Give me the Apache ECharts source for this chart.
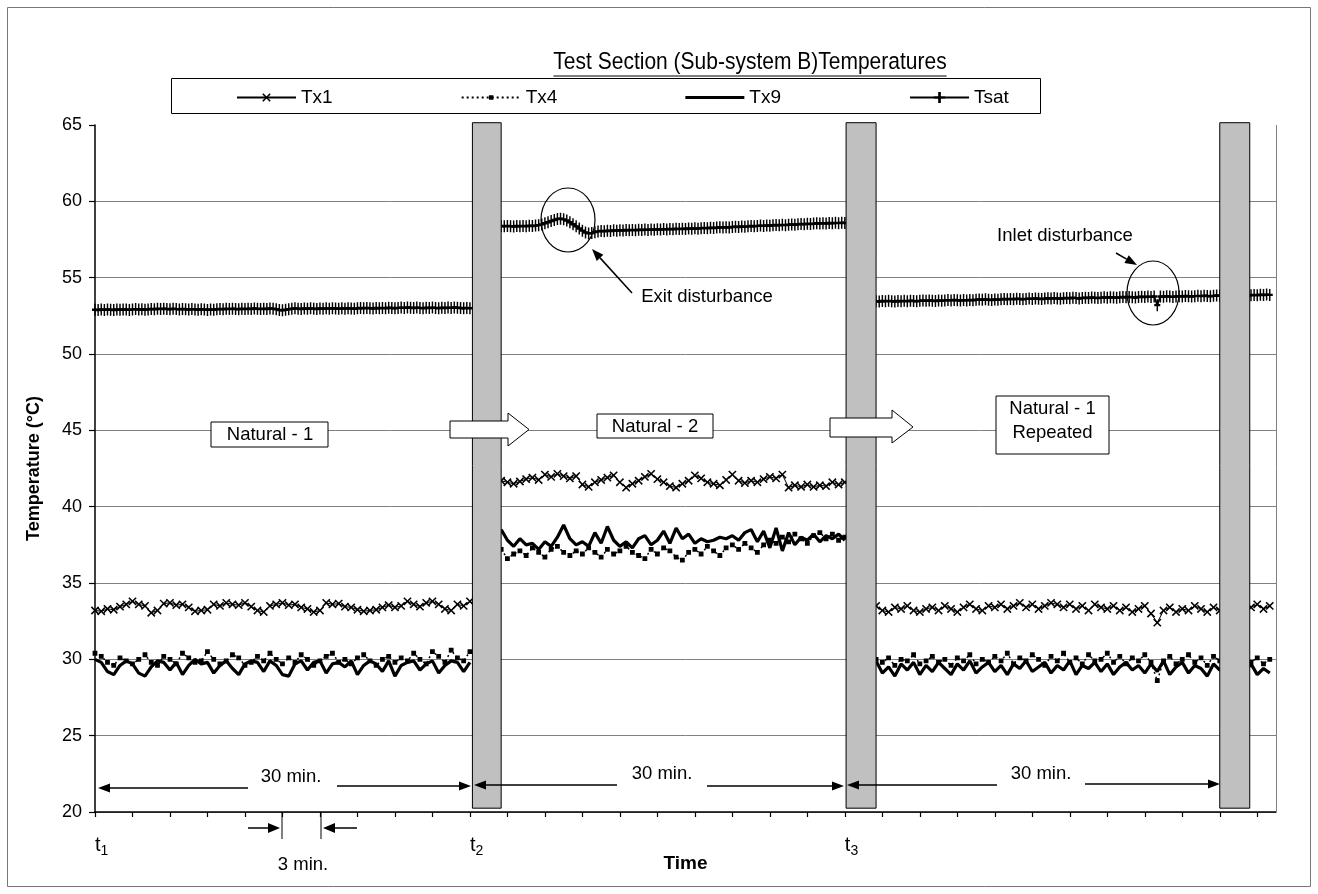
<!DOCTYPE html>
<html><head><meta charset="utf-8">
<script src="https://cdn.jsdelivr.net/npm/echarts@6/dist/echarts.min.js"></script>
<style>html,body{margin:0;padding:0;background:#fff}#c{width:1318px;height:894px}</style>
</head><body><div id="c"></div>
<script>
const FONT = '"Liberation Sans", Arial, sans-serif';
const titleText = 'Test Section (Sub-system B)Temperatures';
const seriesNames = ['Tx1', 'Tx4', 'Tx9', 'Tsat'];
const yAxisName = 'Temperature (°C)';
const xAxisName = 'Time';
const segmentStarts = [0, 32.5, 62.5];   // minutes
const sampleStep = 0.5;                  // minutes, Tx1/Tx4/Tx9
const tsatStep = 0.25;                   // minutes, Tsat
const timeMarks = {0: '1', 30: '2', 60: '3'};
const pauseBars = [[30.2, 32.5], [60.1, 62.5], [90.0, 92.4]];
const pauseBarY = [20.25, 65.15];

// ---- Tx1 ----
const tx1Seg1 = [33.2,33.15,33.3,33.25,33.45,33.6,33.8,33.6,33.5,33.05,
33.2,33.65,33.7,33.55,33.6,33.4,33.15,33.2,33.25,33.6,
33.5,33.7,33.6,33.55,33.7,33.45,33.2,33.1,33.5,33.6,
33.7,33.55,33.6,33.4,33.3,33.1,33.2,33.7,33.6,33.65,
33.45,33.4,33.25,33.15,33.2,33.25,33.4,33.55,33.4,33.5,
33.8,33.6,33.45,33.7,33.8,33.6,33.3,33.2,33.6,33.5,33.8];
const tx1Seg2 = [41.7,41.6,41.5,41.65,41.8,41.9,41.75,42.1,41.95,42.15,
42.0,41.85,42.0,41.45,41.3,41.6,41.75,41.9,42.05,41.6,
41.25,41.5,41.7,41.95,42.15,41.8,41.6,41.35,41.25,41.5,
41.7,42.05,41.85,41.6,41.5,41.4,41.75,42.1,41.7,41.55,
41.7,41.6,41.8,41.95,41.85,42.1,41.25,41.4,41.3,41.45,
41.3,41.4,41.35,41.6,41.45,41.6];
const tx1Seg3 = [33.5,33.2,33.1,33.4,33.3,33.5,33.2,33.1,33.3,33.4,
33.2,33.5,33.3,33.1,33.4,33.6,33.3,33.2,33.5,33.4,
33.6,33.3,33.5,33.7,33.4,33.6,33.3,33.5,33.7,33.6,
33.4,33.6,33.3,33.5,33.2,33.6,33.4,33.3,33.5,33.2,
33.4,33.1,33.3,33.5,33.0,32.4,33.2,33.4,33.1,33.3,
33.2,33.5,33.3,33.1,33.4,33.2,33.6,33.3,33.5,33.2,
33.4,33.6,33.3,33.5];

// ---- Tx4 ----
const tx4Seg1 = [30.4,30.2,29.8,29.6,30.1,29.9,29.7,30.0,30.3,29.8,
29.6,30.2,30.0,29.7,30.4,30.1,29.8,29.9,30.5,30.0,
29.7,29.9,30.3,30.1,29.6,29.8,30.2,29.9,30.4,30.0,
29.7,30.1,29.8,30.3,30.0,29.6,29.9,30.2,30.4,29.8,
30.0,29.7,30.1,30.3,29.9,29.6,30.0,30.2,29.8,30.1,
29.9,30.4,30.0,29.7,30.5,30.2,29.8,30.6,30.1,29.9,30.5];
const tx4Seg2 = [37.2,36.6,36.9,37.1,36.8,37.3,37.0,36.7,37.2,37.4,
37.0,36.8,37.1,36.9,37.3,37.0,36.7,37.2,36.9,37.1,
37.4,37.0,36.8,36.6,37.2,36.9,37.3,37.1,36.7,36.5,
37.0,37.2,36.9,37.4,37.1,36.8,37.3,37.5,37.2,37.6,
37.3,37.0,37.5,37.8,37.6,38.0,37.7,38.2,37.9,37.6,
38.1,38.3,37.9,38.2,37.8,38.0];
const tx4Seg3 = [30.0,29.8,30.1,29.6,30.0,29.9,30.3,29.7,29.9,30.2,
29.8,30.0,29.6,30.1,29.9,30.3,29.7,30.0,29.8,30.2,
29.9,30.4,29.7,30.1,29.9,30.3,30.0,29.6,30.2,29.9,
30.4,29.8,30.1,29.7,30.3,29.9,30.0,30.4,29.8,30.2,
29.7,30.1,29.9,30.3,29.8,28.6,29.9,30.2,29.7,30.0,
30.3,29.8,30.1,29.6,30.2,29.9,30.4,29.7,30.0,30.3,
29.8,30.1,29.7,30.0];

// ---- Tx9 ----
const tx9Seg1 = [30.0,29.8,29.2,29.0,29.6,29.9,29.7,29.1,28.9,29.5,
29.9,29.8,29.3,29.8,29.0,29.6,30.0,29.7,29.8,29.1,
29.6,29.9,29.4,29.0,29.7,29.9,29.8,29.2,29.9,29.6,
29.0,28.9,29.7,29.9,29.3,29.8,29.9,29.1,29.7,29.8,
29.5,29.9,29.0,29.6,29.9,29.7,29.2,29.9,28.9,29.6,
29.8,29.9,29.3,29.7,29.9,29.1,29.6,29.9,29.8,29.2,29.8];
const tx9Seg2 = [38.5,37.8,37.4,37.9,37.5,37.6,37.2,37.7,37.4,38.0,
38.8,37.9,37.5,37.7,37.4,38.3,37.6,38.7,37.8,37.4,
37.7,37.3,37.9,38.1,37.5,37.8,38.4,37.6,38.6,37.9,
38.2,37.6,37.9,37.7,37.8,38.0,37.9,38.1,37.8,38.3,
38.5,37.7,38.4,37.3,38.6,37.1,38.3,37.5,38.0,37.8,
38.2,37.7,38.1,37.9,38.2,37.8];
const tx9Seg3 = [29.9,29.1,29.5,28.9,29.7,29.3,29.8,29.0,29.6,29.2,
29.8,29.4,29.0,29.7,29.3,29.9,29.1,29.5,29.8,29.2,
29.6,29.0,29.7,29.4,29.9,29.2,29.5,29.8,29.1,29.6,
29.3,29.9,29.0,29.6,29.4,29.8,29.2,29.7,29.0,29.5,
29.8,29.3,29.6,29.1,29.7,29.2,29.9,29.0,29.5,29.8,
29.1,29.6,29.4,28.9,29.7,29.3,29.8,29.0,29.6,29.2,
29.7,29.0,29.4,29.1];

// ---- Tsat (0.25 min sampling) ----
const tsatSeg1 = [52.90,52.88,52.91,52.89,52.92,52.90,52.88,52.91,52.90,52.92,
52.91,52.89,52.92,52.94,52.91,52.93,52.90,52.92,52.95,52.93,
52.96,52.94,52.97,52.95,52.93,52.96,52.94,52.92,52.95,52.93,
52.91,52.94,52.92,52.90,52.93,52.91,52.89,52.92,52.90,52.93,
52.95,52.93,52.96,52.94,52.97,52.95,52.93,52.96,52.94,52.97,
52.95,52.98,52.96,52.94,52.97,52.95,52.98,52.96,52.93,52.88,
52.86,52.90,52.93,52.96,52.99,52.97,52.95,52.98,52.96,52.99,
52.97,52.95,52.98,52.96,52.99,52.97,53.00,52.98,52.96,52.99,
52.97,53.00,52.98,52.96,52.99,53.01,52.99,53.02,53.00,52.98,
53.01,52.99,53.02,53.00,53.03,53.01,52.99,53.02,53.04,53.02,
53.05,53.03,53.01,53.04,53.02,53.00,53.03,53.01,53.04,53.02,
53.00,53.03,53.01,53.04,53.02,53.05,53.03,53.01,52.99,53.02,53.00];
const tsatSeg2 = [58.38,58.36,58.39,58.37,58.35,58.38,58.36,58.39,58.37,58.40,
58.38,58.41,58.44,58.49,58.56,58.63,58.71,58.78,58.84,58.86,
58.82,58.74,58.63,58.50,58.36,58.22,58.08,57.96,57.90,57.92,
57.98,58.03,58.06,58.04,58.08,58.06,58.10,58.08,58.11,58.09,
58.12,58.10,58.13,58.11,58.14,58.12,58.15,58.13,58.16,58.14,
58.17,58.15,58.18,58.16,58.19,58.17,58.20,58.18,58.21,58.19,
58.22,58.20,58.23,58.21,58.24,58.26,58.24,58.27,58.25,58.28,
58.30,58.28,58.31,58.29,58.32,58.34,58.32,58.35,58.33,58.36,
58.38,58.36,58.39,58.41,58.39,58.42,58.40,58.43,58.45,58.43,
58.46,58.44,58.47,58.49,58.47,58.50,58.52,58.50,58.53,58.51,
58.54,58.56,58.54,58.57,58.55,58.58,58.56,58.59,58.57,58.60,58.58];
const tsatSeg3 = [53.46,53.44,53.47,53.45,53.48,53.46,53.44,53.47,53.45,53.48,
53.46,53.49,53.47,53.45,53.48,53.50,53.48,53.51,53.49,53.47,
53.50,53.48,53.51,53.53,53.51,53.54,53.52,53.50,53.53,53.51,
53.54,53.52,53.55,53.57,53.55,53.58,53.56,53.54,53.57,53.55,
53.58,53.60,53.58,53.61,53.59,53.62,53.60,53.58,53.61,53.63,
53.61,53.64,53.62,53.60,53.63,53.65,53.63,53.66,53.64,53.62,
53.65,53.67,53.65,53.68,53.66,53.64,53.67,53.69,53.67,53.70,
53.68,53.66,53.69,53.71,53.69,53.72,53.70,53.68,53.71,53.73,
53.71,53.74,53.72,53.70,53.73,53.75,53.73,53.76,53.74,53.77,
53.20,53.77,53.75,53.78,53.76,53.74,53.77,53.79,53.77,53.80,
53.78,53.76,53.79,53.81,53.79,53.82,53.80,53.78,53.81,53.83,
53.81,53.84,53.82,53.80,53.83,53.85,53.83,53.86,53.84,53.82,
53.85,53.87,53.85,53.88,53.86,53.89,53.87];

function build(segs, step) {
  const out = [];
  segs.forEach((vals, k) => {
    if (k > 0) out.push([segmentStarts[k] - step, '-']);
    vals.forEach((v, i) => out.push([segmentStarts[k] + i * step, v]));
  });
  return out;
}

// symbols padded inside a 10x10 box (tiny invisible corner specks fix the box)
const BOXFIX = 'M0,0L0.01,0L0,0.01Z M10,10L9.99,10L10,9.99Z ';
const X_SYMBOL = 'path://' + BOXFIX + 'M1.2,2.2L2.2,1.2L5,4L7.8,1.2L8.8,2.2L6,5L8.8,7.8L7.8,8.8L5,6L2.2,8.8L1.2,7.8L4,5Z';
const SQ_SYMBOL = 'path://' + BOXFIX + 'M3,3H7V7H3Z';
const PLUS_SYMBOL = 'path://M3.8,0L6.2,0L6.2,4L10,4L10,6L6.2,6L6.2,10L3.8,10L3.8,6L0,6L0,4L3.8,4Z';
const THICK_LINE_ICON = 'path://M0,0L0.01,0L0,0.01Z M59,14L58.99,14L59,13.99Z M0,5.5L59,5.5L59,8.5L0,8.5Z';

const chart = echarts.init(document.getElementById('c'), null, {renderer: 'canvas'});

function arrowLine(x1, y1, x2, y2, head, hw, lw) {
  head = head || 12; hw = hw || 4.5; lw = lw || 1.5;
  const a = Math.atan2(y2 - y1, x2 - x1);
  const bx = x2 - head * Math.cos(a), by = y2 - head * Math.sin(a);
  const px = -Math.sin(a) * hw, py = Math.cos(a) * hw;
  return [
    {type: 'line', z: 100, shape: {x1: x1, y1: y1, x2: bx, y2: by}, style: {stroke: '#000', lineWidth: lw}},
    {type: 'polygon', z: 100, shape: {points: [[x2, y2], [bx + px, by + py], [bx - px, by - py]]}, style: {fill: '#000'}}
  ];
}
function txt(x, y, s, size, extra) {
  return Object.assign({type: 'text', z: 101, x: x, y: y,
    style: {text: s, font: (size || 18.5) + 'px ' + FONT, fill: '#000', align: 'center', verticalAlign: 'middle'}}, extra || {});
}
function box(x1, y1, x2, y2) {
  return {type: 'rect', z: 100, shape: {x: x1, y: y1, width: x2 - x1, height: y2 - y1}, style: {fill: '#fff', stroke: '#000', lineWidth: 1}};
}

const TITLE_SIZE = 21;
const ctx = document.createElement('canvas').getContext('2d');
ctx.font = TITLE_SIZE + 'px ' + FONT;
const titleW = ctx.measureText(titleText).width;
const titleCx = 750, titleCy = 63;

const graphics = [
  {type: 'rect', z: 0, shape: {x: 7.5, y: 7.5, width: 1303, height: 879}, style: {fill: 'none', stroke: '#777', lineWidth: 1}},
  txt(titleCx, titleCy, titleText, TITLE_SIZE, {scaleY: 1.1}),
  {type: 'line', z: 100, shape: {x1: titleCx - titleW / 2, y1: titleCy + 13, x2: titleCx + titleW / 2, y2: titleCy + 13}, style: {stroke: '#000', lineWidth: 1.2}},
  {type: 'rect', z: 0, shape: {x: 171.5, y: 78.5, width: 869, height: 35}, style: {fill: 'none', stroke: '#000', lineWidth: 1}},
  {type: 'line', z: 1, shape: {x1: 1276.5, y1: 125, x2: 1276.5, y2: 812}, style: {stroke: '#808080', lineWidth: 1}},
  // phase boxes
  box(211, 422, 328, 447), txt(270, 435, 'Natural - 1'),
  box(597, 414, 713, 438), txt(655, 426.5, 'Natural - 2'),
  box(996, 396, 1109, 454), txt(1052.5, 409, 'Natural - 1'), txt(1052.5, 433, 'Repeated'),
  // block arrows
  {type: 'polygon', z: 100, shape: {points: [[450,421],[508,421],[508,413],[529,429.5],[508,446],[508,438],[450,438]]}, style: {fill: '#fff', stroke: '#000', lineWidth: 1}},
  {type: 'polygon', z: 100, shape: {points: [[830,418],[892,418],[892,410],[913,427],[892,443],[892,437],[830,437]]}, style: {fill: '#fff', stroke: '#000', lineWidth: 1}},
  // disturbances
  {type: 'ellipse', z: 100, shape: {cx: 568, cy: 220, rx: 27, ry: 32}, style: {fill: 'none', stroke: '#000', lineWidth: 1.2}},
  txt(707, 297, 'Exit disturbance'),
  {type: 'ellipse', z: 100, shape: {cx: 1153, cy: 293, rx: 26, ry: 32}, style: {fill: 'none', stroke: '#000', lineWidth: 1.2}},
  txt(1065, 236, 'Inlet disturbance'),
  // 30 min labels
  txt(291, 777, '30 min.'), txt(662, 774, '30 min.'), txt(1041, 774, '30 min.'),
  // 3 min
  {type: 'line', z: 100, shape: {x1: 282, y1: 812, x2: 282, y2: 839}, style: {stroke: '#000', lineWidth: 1}},
  {type: 'line', z: 100, shape: {x1: 321, y1: 812, x2: 321, y2: 839}, style: {stroke: '#000', lineWidth: 1}},
  txt(303, 865, '3 min.')
].concat(
  arrowLine(632, 293, 592, 249),
  arrowLine(1116, 253, 1137, 265),
  arrowLine(248, 788, 98, 788),
  arrowLine(337, 786, 471, 786),
  arrowLine(617, 785, 474, 785),
  arrowLine(707, 786, 844, 786),
  arrowLine(997, 785, 847, 785),
  arrowLine(1085, 784, 1220, 784),
  arrowLine(248, 828, 280, 828, 12, 5),
  arrowLine(357, 828, 323, 828, 12, 5)
);

const option = {
  animation: false,
  backgroundColor: '#fff',
  textStyle: {fontFamily: FONT},
  grid: {left: 95, right: 42, top: 125, bottom: 82, containLabel: false},
  legend: {
    data: ['Tx1', 'Tx4', {name: 'Tx9', icon: THICK_LINE_ICON}, 'Tsat'],
    left: 236, top: 88, padding: 0, itemWidth: 59, itemHeight: 14, itemGap: 128,
    textStyle: {fontSize: 19, fontFamily: FONT, color: '#000'}, selectedMode: false
  },
  xAxis: {
    type: 'value', min: 0, max: 94.5, interval: 3,
    name: xAxisName, nameLocation: 'middle', nameGap: 42, nameMoveOverlap: false,
    nameTextStyle: {fontSize: 19, fontWeight: 'bold', color: '#000', fontFamily: FONT},
    axisLine: {lineStyle: {color: '#000', width: 1.5}},
    axisTick: {show: true, length: 5, lineStyle: {color: '#000', width: 1.2}},
    splitLine: {show: false},
    axisLabel: {
      showMinLabel: true, showMaxLabel: false, hideOverlap: false, align: 'left', margin: 20,
      formatter: v => (timeMarks[v] ? '{t|t}{s|' + timeMarks[v] + '}' : ''),
      rich: {t: {fontSize: 20, color: '#000', fontFamily: FONT}, s: {fontSize: 14, color: '#000', fontFamily: FONT, padding: [12, 0, 0, 0]}}
    }
  },
  yAxis: {
    type: 'value', min: 20, max: 65, interval: 5,
    name: yAxisName, nameLocation: 'middle', nameGap: 52,
    nameTextStyle: {fontSize: 18, fontWeight: 'bold', color: '#000', fontFamily: FONT},
    axisLine: {show: true, lineStyle: {color: '#000', width: 1.5}},
    axisTick: {show: true, length: 6, lineStyle: {color: '#000', width: 1.2}},
    axisLabel: {fontSize: 18, color: '#000', margin: 13, fontFamily: FONT},
    splitLine: {show: true, lineStyle: {color: ['#808080','#808080','#808080','#808080','#808080','#808080','#808080','#808080','#808080','rgba(0,0,0,0)'], width: 1}}
  },
  series: [
    {name: 'Tx1', type: 'line', data: build([tx1Seg1, tx1Seg2, tx1Seg3], sampleStep), z: 3,
     symbol: X_SYMBOL, symbolSize: 11, lineStyle: {color: '#000', width: 1}, itemStyle: {color: '#000'}, emphasis: {disabled: true}},
    {name: 'Tx4', type: 'line', data: build([tx4Seg1, tx4Seg2, tx4Seg3], sampleStep), z: 3,
     symbol: SQ_SYMBOL, symbolSize: 12, lineStyle: {color: '#000', width: 1.5, type: [2, 3]}, itemStyle: {color: '#000'}, emphasis: {disabled: true}},
    {name: 'Tx9', type: 'line', data: build([tx9Seg1, tx9Seg2, tx9Seg3], sampleStep), z: 3,
     symbol: 'none', lineStyle: {color: '#000', width: 3.2}, itemStyle: {color: '#000'}, emphasis: {disabled: true}},
    {name: 'Tsat', type: 'line', data: build([tsatSeg1, tsatSeg2, tsatSeg3], tsatStep), z: 3,
     symbol: PLUS_SYMBOL, symbolSize: [6, 12], symbolKeepAspect: false, lineStyle: {color: '#000', width: 1.8}, itemStyle: {color: '#000'}, emphasis: {disabled: true}},
    {name: 'pause', type: 'custom', z: 10, silent: true, clip: false,
     data: pauseBars.map(b => [b[0], b[1], pauseBarY[0], pauseBarY[1]]),
     encode: {x: [0, 1], y: [2, 3]},
     renderItem: function (params, api) {
       const p0 = api.coord([api.value(0), api.value(3)]);
       const p1 = api.coord([api.value(1), api.value(2)]);
       return {type: 'rect', shape: {x: p0[0], y: p0[1], width: p1[0] - p0[0], height: p1[1] - p0[1]},
               style: {fill: '#c0c0c0', stroke: '#000', lineWidth: 1}};
     }}
  ],
  graphic: graphics
};
chart.setOption(option);
</script>
</body></html>
